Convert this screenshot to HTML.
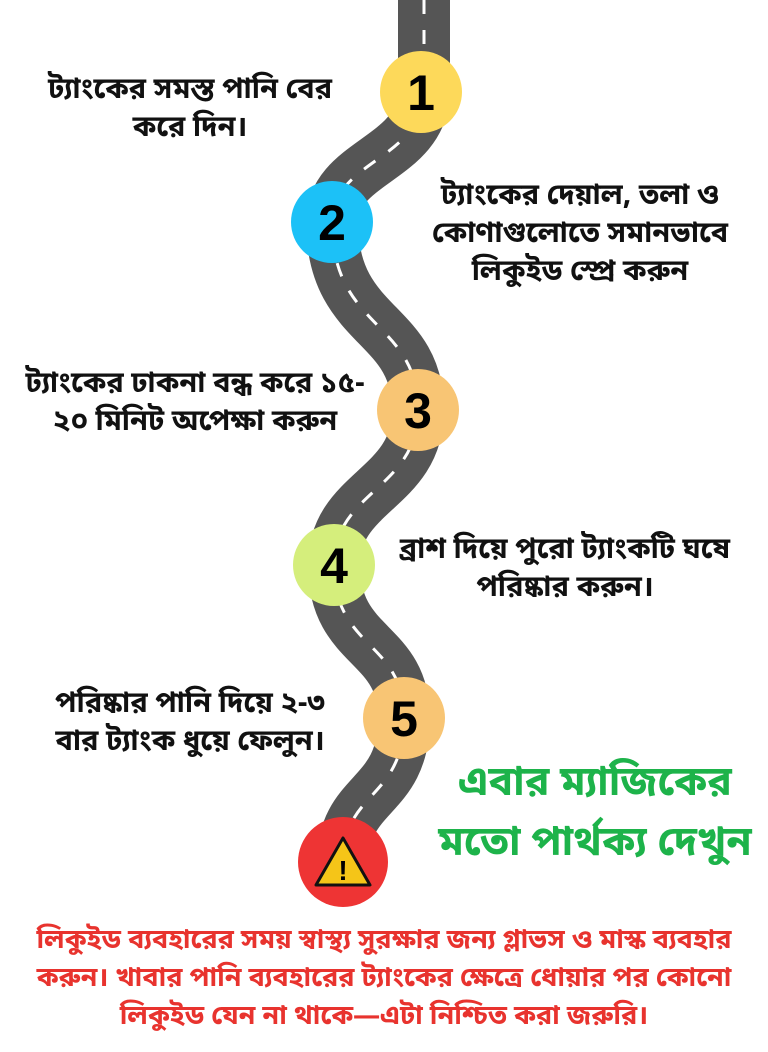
<!DOCTYPE html>
<html><head><meta charset="utf-8"><style>
body{margin:0;width:768px;height:1052px;background:#fff;position:relative;overflow:hidden;font-family:"Liberation Sans","Noto Sans CJK SC",sans-serif;}
.t{position:absolute;font-weight:bold;font-size:29px;line-height:38px;color:#111;text-align:center;white-space:nowrap;font-family:"Noto Sans Bengali","Lohit Bengali","Liberation Sans",sans-serif;}
svg{position:absolute;left:0;top:0}
</style></head><body>
<svg width="768" height="1052">
<path d="M424,0 L424,90 C424,160 332,160 332,222 C332,330 418,320 418,410 C418,490 334,490 334,565 C334,650 404,640 404,718 C404,800 343,790 343,862" fill="none" stroke="#555" stroke-width="52"/>
<path d="M424,0 L424,90 C424,160 332,160 332,222 C332,330 418,320 418,410 C418,490 334,490 334,565 C334,650 404,640 404,718 C404,800 343,790 343,862" fill="none" stroke="#fff" stroke-width="3" stroke-dasharray="14,16"/>
<circle cx="421" cy="92" r="41" fill="#FDD95A"/>
<circle cx="332" cy="222" r="41" fill="#1CC1F7"/>
<circle cx="418" cy="410" r="41" fill="#F8C574"/>
<circle cx="334" cy="565" r="41" fill="#D5EE7C"/>
<circle cx="404" cy="718" r="41" fill="#F8C574"/>
<circle cx="343" cy="862" r="45" fill="#EE3434"/>
<g font-family="Liberation Sans,sans-serif" font-weight="bold" font-size="50" text-anchor="middle" fill="#000">
<text x="421" y="110">1</text><text x="332" y="240">2</text><text x="418" y="428">3</text><text x="334" y="583">4</text><text x="404" y="736">5</text>
</g>
<path d="M343,838 L370,885 L316,885 Z" fill="#F5C518" stroke="#111" stroke-width="3" stroke-linejoin="round"/>
<text x="343" y="880" font-family="Liberation Sans" font-weight="bold" font-size="28" text-anchor="middle">!</text>
</svg>
<div class="t" style="left:15px;top:72px;width:350px">ট্যাংকের সমস্ত পানি বের<br>করে দিন।</div>
<div class="t" style="left:405px;top:178px;width:350px">ট্যাংকের দেয়াল, তলা ও<br>কোণাগুলোতে সমানভাবে<br>লিকুইড স্প্রে করুন</div>
<div class="t" style="left:5px;top:366px;width:380px">ট্যাংকের ঢাকনা বন্ধ করে ১৫-<br>২০ মিনিট  অপেক্ষা করুন</div>
<div class="t" style="left:390px;top:532px;width:350px">ব্রাশ দিয়ে পুরো ট্যাংকটি ঘষে<br>পরিষ্কার করুন।</div>
<div class="t" style="left:15px;top:686px;width:350px">পরিষ্কার পানি দিয়ে  ২-৩<br>বার ট্যাংক ধুয়ে ফেলুন।</div>
<div class="t" style="left:430px;top:755px;width:330px;color:#1DB34A;font-size:41px;line-height:60px">এবার ম্যাজিকের<br>মতো পার্থক্য দেখুন</div>
<div class="t" style="left:0px;top:923px;width:768px;color:#E8332E;font-size:27px;line-height:38px">লিকুইড ব্যবহারের সময় স্বাস্থ্য সুরক্ষার জন্য গ্লাভস ও মাস্ক ব্যবহার<br>করুন। খাবার পানি ব্যবহারের ট্যাংকের ক্ষেত্রে ধোয়ার পর কোনো<br>লিকুইড যেন না থাকে—এটা নিশ্চিত করা জরুরি।</div>
</body></html>
